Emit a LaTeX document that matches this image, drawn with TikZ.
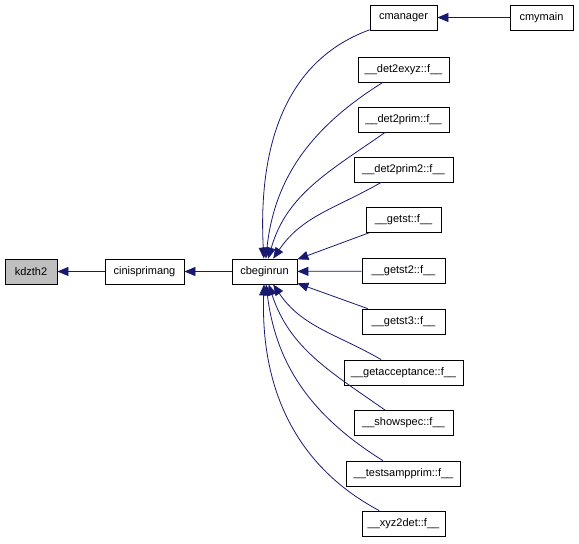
\documentclass[tikz,border=0pt]{standalone}
\usepackage{fontspec}
\setmainfont{Liberation Sans}
\usepackage{xcolor}
\usetikzlibrary{arrows.meta}
\definecolor{edgeblue}{RGB}{25,25,112}
\tikzset{ fn_box/.style = {rectangle, draw, line width=0.8pt, minimum height=25pt, inner sep=1pt, font=\fontsize{11}{13}\selectfont} }
\tikzset{ calls/.style = {draw=edgeblue, line width=0.8pt, -{Triangle[length=11pt,width=9pt]}} }

\begin{document}
\begin{tikzpicture}[x=1pt,y=1pt]
\useasboundingbox (0,0) rectangle (579,-544);
\node[fn_box, fill=black!25, minimum width=52pt] (kdzth2) at (31,-271.5) {kdzth2};
\node[fn_box, minimum width=79pt] (cinisprimang) at (144.5,-271.5) {cinisprimang};
\node[fn_box, minimum width=65pt] (cbeginrun) at (264.5,-271.5) {cbeginrun};
\node[fn_box, minimum width=67pt] (cmanager) at (403.5,-17.5) {cmanager};
\node[fn_box, minimum width=63pt] (cmymain) at (541.5,-17.5) {cmymain};
\node[fn_box, minimum width=91pt] (det2exyz) at (403.5,-69.5) {\_\_det2exyz::f\_\_};
\node[fn_box, minimum width=91pt] (det2prim) at (403.5,-119.5) {\_\_det2prim::f\_\_};
\node[fn_box, minimum width=99pt] (det2prim2) at (403.5,-169.5) {\_\_det2prim2::f\_\_};
\node[fn_box, minimum width=75pt] (getst) at (403.5,-220) {\_\_getst::f\_\_};
\node[fn_box, minimum width=83pt] (getst2) at (403.5,-271) {\_\_getst2::f\_\_};
\node[fn_box, minimum width=83pt] (getst3) at (403.5,-321.5) {\_\_getst3::f\_\_};
\node[fn_box, minimum width=119pt] (getacceptance) at (403.5,-372.5) {\_\_getacceptance::f\_\_};
\node[fn_box, minimum width=99pt] (showspec) at (403.5,-423) {\_\_showspec::f\_\_};
\node[fn_box, minimum width=114pt] (testsampprim) at (403.5,-473.5) {\_\_testsampprim::f\_\_};
\node[fn_box, minimum width=83pt] (xyz2det) at (403.5,-523.5) {\_\_xyz2det::f\_\_};
\draw[calls] (cinisprimang) -- (kdzth2);
\draw[calls] (cbeginrun) -- (cinisprimang);
\draw[calls] (cmymain) -- (cmanager);
\draw[calls] (cmanager) to[out=200, in=93] (cbeginrun);
\draw[calls] (det2exyz) to[out=212, in=84] (cbeginrun);
\draw[calls] (det2prim) to[out=215, in=74] (cbeginrun);
\draw[calls] (det2prim2) to[out=210, in=56] (cbeginrun);
\draw[calls] (getst) -- (cbeginrun);
\draw[calls] (getst2) -- (cbeginrun);
\draw[calls] (getst3) -- (cbeginrun);
\draw[calls] (getacceptance) to[out=150, in=-56] (cbeginrun);
\draw[calls] (showspec) to[out=145, in=-72] (cbeginrun);
\draw[calls] (testsampprim) to[out=148, in=-83] (cbeginrun);
\draw[calls] (xyz2det) to[out=152, in=-92] (cbeginrun);
\end{tikzpicture}
\end{document}
